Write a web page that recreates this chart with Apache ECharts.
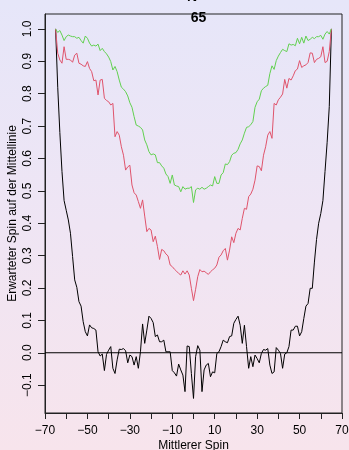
<!DOCTYPE html>
<html>
<head>
<meta charset="utf-8">
<script src="https://cdn.jsdelivr.net/npm/echarts@6.0.0/dist/echarts.min.js"></script>
<style>
html,body{margin:0;padding:0;}
#c{width:349px;height:450px;background:linear-gradient(to bottom,#E6E6F9 0%,#EFE5F4 50%,#F7E4EC 100%);}
</style>
</head>
<body>
<div id="c"></div>
<script>
// x: Mittlerer Spin
const spin = [-65,-64,-63,-62,-61,-60,-59,-58,-57,-56,-55,-54,-53,-52,-51,-50,-49,-48,-47,-46,
-45,-44,-43,-42,-41,-40,-39,-38,-37,-36,-35,-34,-33,-32,-31,-30,-29,-28,-27,-26,
-25,-24,-23,-22,-21,-20,-19,-18,-17,-16,-15,-14,-13,-12,-11,-10,-9,-8,-7,-6,
-5,-4,-3,-2,-1,0,1,2,3,4,5,6,7,8,9,10,11,12,13,14,
15,16,17,18,19,20,21,22,23,24,25,26,27,28,29,30,31,32,33,34,
35,36,37,38,39,40,41,42,43,44,45,46,47,48,49,50,51,52,53,54,
55,56,57,58,59,60,61,62,63,64,65];

const blackSeries = [
1.00,0.82,0.68,0.56,0.47,0.44,0.41,0.369,0.297,0.225,
0.202,0.158,0.144,0.096,0.065,0.052,0.086,0.077,0.075,0.070,
0.003,-0.010,-0.004,-0.055,-0.005,0.008,0.019,-0.048,-0.064,-0.022,
0.011,0.010,0.013,0.006,-0.031,-0.007,-0.012,-0.038,-0.012,-0.048,
0.003,0.089,0.029,0.070,0.113,0.106,0.093,0.050,0.055,0.034,
0.034,0.039,0.003,0.003,0.003,-0.055,-0.062,-0.072,-0.035,-0.053,
-0.069,-0.120,0.021,0.019,-0.064,-0.141,-0.012,0.022,0.008,-0.120,
-0.053,-0.038,-0.033,-0.074,-0.059,-0.062,-0.002,0.003,0.019,0.039,
0.034,0.031,0.050,0.052,0.091,0.103,0.113,0.085,0.029,0.085,
0.019,-0.048,-0.012,-0.043,-0.007,-0.018,-0.031,-0.002,0.010,0.008,
0.013,-0.038,-0.064,-0.059,0.016,0.008,-0.002,-0.048,-0.004,0.000,
0.019,0.070,0.070,0.082,0.082,0.052,0.065,0.106,0.144,0.152,
0.199,0.199,0.28,0.35,0.40,0.43,0.47,0.56,0.65,0.76,
1.00];

const redSeries = [
1.0,0.925,0.904,0.894,0.945,0.906,0.906,0.904,0.897,0.919,
0.925,0.894,0.891,0.886,0.884,0.899,0.878,0.868,0.840,0.842,
0.796,0.842,0.844,0.786,0.779,0.775,0.765,0.770,0.667,0.683,
0.672,0.636,0.610,0.564,0.574,0.579,0.518,0.494,0.487,0.467,
0.446,0.472,0.422,0.374,0.384,0.379,0.343,0.360,0.328,0.288,
0.319,0.315,0.305,0.299,0.271,0.266,0.258,0.252,0.245,0.240,
0.253,0.243,0.253,0.240,0.199,0.161,0.196,0.235,0.257,0.250,
0.252,0.247,0.242,0.250,0.256,0.261,0.271,0.295,0.302,0.315,
0.322,0.286,0.317,0.358,0.340,0.369,0.384,0.379,0.415,0.446,
0.443,0.482,0.490,0.505,0.533,0.577,0.575,0.562,0.610,0.636,
0.672,0.683,0.662,0.770,0.765,0.781,0.789,0.799,0.844,0.817,
0.847,0.842,0.855,0.871,0.876,0.902,0.881,0.886,0.889,0.896,
0.926,0.925,0.896,0.906,0.909,0.914,0.945,0.896,0.90,0.93,
1.0];

const greenSeries = [
1.0,0.989,0.995,0.981,0.964,0.976,0.981,0.978,0.976,0.976,
0.971,0.974,0.964,0.956,0.978,0.971,0.956,0.947,0.950,0.947,
0.953,0.933,0.940,0.930,0.923,0.913,0.899,0.873,0.884,0.868,
0.842,0.820,0.814,0.806,0.793,0.772,0.758,0.729,0.703,0.700,
0.696,0.688,0.657,0.642,0.621,0.611,0.614,0.611,0.587,0.587,
0.577,0.570,0.552,0.544,0.523,0.549,0.518,0.515,0.513,0.497,
0.513,0.505,0.508,0.508,0.513,0.464,0.503,0.508,0.505,0.511,
0.505,0.508,0.513,0.518,0.515,0.544,0.523,0.523,0.549,0.556,
0.583,0.581,0.590,0.610,0.616,0.618,0.628,0.645,0.657,0.678,
0.696,0.698,0.704,0.714,0.758,0.775,0.783,0.809,0.817,0.822,
0.826,0.862,0.886,0.875,0.902,0.916,0.927,0.937,0.933,0.930,
0.954,0.950,0.952,0.948,0.971,0.954,0.974,0.956,0.978,0.964,
0.968,0.974,0.970,0.976,0.976,0.980,0.968,0.984,0.992,0.984,
1.0];

const xTicks = [-70,-60,-50,-40,-30,-20,-10,0,10,20,30,40,50,60,70];
const xTickLabels = [-70,-50,-30,-10,10,30,50,70];
const yTicks = [-0.1,0,0.1,0.2,0.3,0.4,0.5,0.6,0.7,0.8,0.9,1.0];
const refLineX = [-70,70];
const refLineY = [0,0];

const FONT = '"Liberation Sans", Arial, Helvetica, sans-serif';
const fmtMinus = s => String(s).replace('-', '\u2212');

function pairs(xs, ys){ return xs.map((x,i)=>[x, ys[i]]); }

const chart = echarts.init(document.getElementById('c'), null, {renderer:'canvas'});
chart.setOption({
  backgroundColor: 'transparent',
  animation: false,
  textStyle: {fontFamily: FONT},
  grid: {left:45, right:7, top:14, bottom:37, outerBoundsMode:'none', containLabel:false,
         show:true, borderColor:'#222', borderWidth:1, backgroundColor:'transparent'},
  title: [
    {text:'N =', left:193, top:-15, textAlign:'center', textStyle:{fontFamily:FONT, fontSize:14, fontWeight:'bold', color:'#000'}},
    {text:'65', left:193.5, top:6, textAlign:'center', textStyle:{fontFamily:FONT, fontSize:14, fontWeight:'bold', color:'#000'}}
  ],
  xAxis: {
    type:'value', min:-70, max:70,
    name:'Mittlerer Spin', nameLocation:'middle', nameGap:27, nameMoveOverlap:false,
    nameTextStyle:{fontFamily:FONT, fontSize:12, color:'#000'},
    axisLine:{show:true, onZero:false, lineStyle:{color:'#222', width:1}},
    axisTick:{show:true, inside:false, length:6, customValues:xTicks, lineStyle:{color:'#222'}},
    axisLabel:{show:true, margin:12, customValues:xTickLabels, fontFamily:FONT, fontSize:12, color:'#000', formatter:v=>fmtMinus(v)},
    splitLine:{show:false}
  },
  yAxis: {
    type:'value', min:-0.186, max:1.046,
    name:'Erwarteter Spin auf der Mittellinie', nameLocation:'middle', nameGap:26, nameMoveOverlap:false,
    nameTextStyle:{fontFamily:FONT, fontSize:12, color:'#000'},
    axisLine:{show:true, onZero:false, lineStyle:{color:'#222', width:1}},
    axisTick:{show:true, inside:false, length:7, customValues:yTicks, lineStyle:{color:'#222'}},
    axisLabel:{show:true, rotate:90, margin:11, customValues:yTicks, fontFamily:FONT, fontSize:12, color:'#000',
      formatter:v=>fmtMinus(Number(v).toFixed(1))},
    splitLine:{show:false}
  },
  series: [
    {type:'line', data:pairs(spin, blackSeries), showSymbol:false, symbol:'none', lineStyle:{color:'#000000', width:1}, z:3},
    {type:'line', data:pairs(spin, redSeries), showSymbol:false, symbol:'none', lineStyle:{color:'#DF536B', width:1}, z:3},
    {type:'line', data:pairs(spin, greenSeries), showSymbol:false, symbol:'none', lineStyle:{color:'#61D04F', width:1}, z:3},
    {type:'line', data:pairs(refLineX, refLineY), showSymbol:false, symbol:'none', lineStyle:{color:'#000000', width:1}, z:4}
  ]
});
</script>
</body>
</html>
